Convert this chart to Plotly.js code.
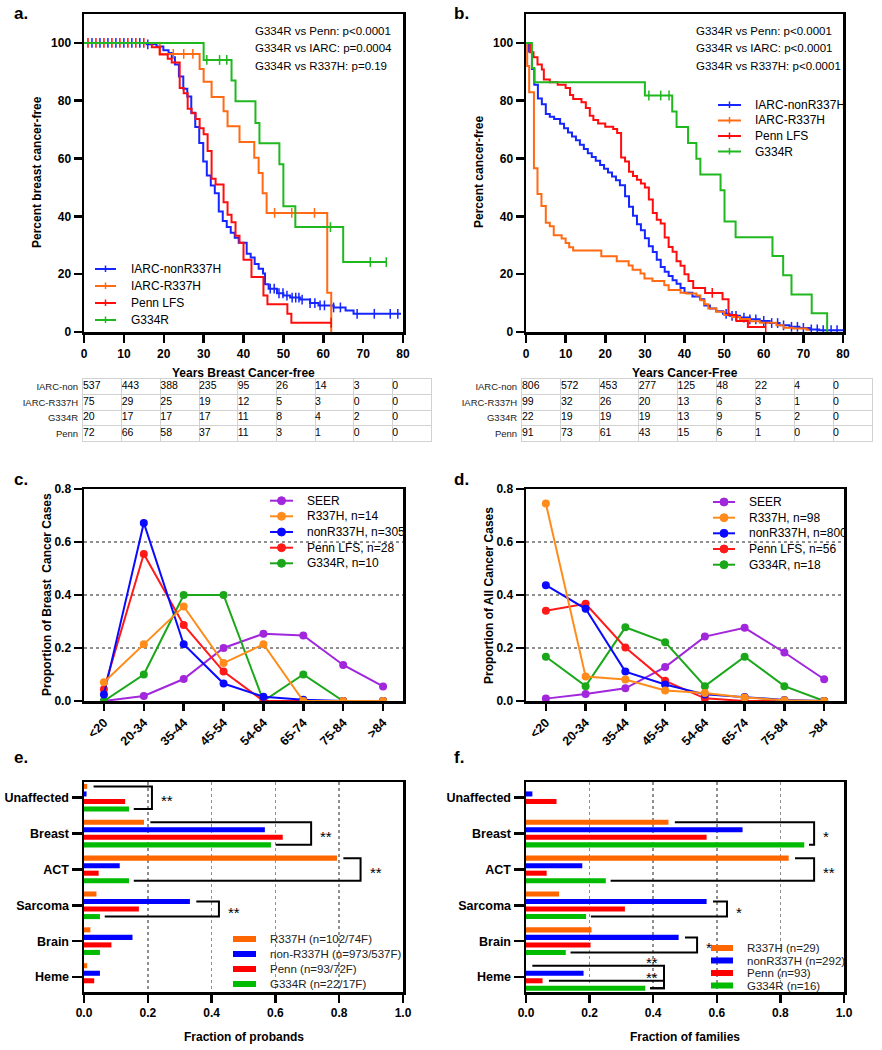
<!DOCTYPE html>
<html>
<head>
<meta charset="utf-8">
<script src="https://cdn.plot.ly/plotly-3.0.1.min.js"></script>
<style>html,body{margin:0;padding:0;background:#fff}#fig{width:882px;height:1050px}</style>
</head>
<body>
<div id="fig"></div>
<script>
// ---------- data ----------
// a. Years breast cancer-free (Kaplan-Meier, percent)
const aNonT  = [0,15.7,18.2,19.9,21.2,22.0,22.8,23.8,24.9,25.9,26.9,27.9,28.9,29.9,30.8,31.8,32.8,33.8,34.8,35.8,36.8,37.8,38.8,40.8,41.8,42.8,43.8,44.9,45.4,46.3,48.4,50.0,51.7,54.2,56.7,58.8,62.6,65.6,67.6,79.5];
const aNonS  = [100,99.5,98.8,97.5,96.5,95,92.5,88.4,84.1,81.5,75.8,70.9,65.4,59,54.1,50.7,48,41.7,38.4,36.3,34.3,32.6,30.9,27.1,25.8,23.5,21.9,20.2,16.5,15,13.4,12.6,11.9,11.2,10,9.2,8.5,7.4,6.3,6.3];
const aNonC  = [2,4,6,8,10,12,14,16,46.7,47.7,48.9,49.9,50.9,52.2,53.1,53.9,54.7,56.7,57.9,59.2,60.3,62.6,64.3,68.5,72.8,76.8,78.7];
const aR337T = [0,19,29,30,32,35,36,39,42.7,43.8,44.8,45.8,61,62];
const aR337S = [100,96.2,91,86.6,81.3,76.4,71.2,65.7,60.3,55,48,41.2,13.6,0];
const aR337C = [22.4,25,27.3,47.8,52.1,57.8];
const aPennT = [0,17,19,21,22,24,25,26,27,28,29,30,31,32,33,35,36,37,38,39,40,42,45,46,51,52,62];
const aPennS = [100,98.5,96,94.5,93.2,84.4,82.6,77.2,75.7,73.7,70.5,68.4,62.6,53,51,44.9,40.6,38,33.3,30.9,25,19,12.6,9.6,6.3,3.2,3.2];
const aPennC = [1,3,5,7,9,11,13,15,62];
const aG334T = [0,30,37,38,43,44,49,50,53,65,76];
const aG334S = [100,94.1,87,79.8,72.3,65.3,58,43.5,36.3,24.2,24.2];
const aG334C = [30.8,34,35.8,61.8,71.8,75.8];

// b. Years cancer-free
const bNonT  = [0,0.5,1.5,2.1,3.0,4.0,5.0,6.0,7.1,8.6,9.6,10.6,11.6,12.6,13.6,14.6,15.6,16.6,17.6,18.7,19.7,20.7,21.7,22.7,23.7,25,26,27,28,29,30,31,32,33,34,35,36,37,38,39,40,42,43.9,45,46.4,48,49.7,51.4,54,56.5,59,61.5,64,66.5,69,71.6,74,80];
const bNonS  = [100,97,91,85.5,80.8,78.8,75.4,74.5,73.7,72,70.5,69,67.6,66.3,64.8,63.3,61.8,60.5,59.2,57.8,56.5,55.2,53.8,52.5,50.8,47,43.3,40.2,37.3,35.2,32.4,29.7,27.7,25,22.5,20.8,19.4,17.9,16.7,15.2,13.6,12.3,11.3,9.2,8.1,7.2,6.3,5.6,5,4.4,3.8,3.1,2.3,1.8,1.4,0.9,0.6,0.6];
const bNonC  = [50.5,52,53,55,56.5,58,60,62,63.5,65,67,68.5,70,72,73.5,75,77,78.5];
const bR337T = [0,0.3,0.8,2.0,2.9,3.9,5.0,6.0,7.0,9.0,10.0,10.9,11.9,19.0,22.9,25.9,26.9,28.9,29.9,31.9,34.9,36.0,39.0,40.5,43.0,44.0,45.0,46.0,48.0,50.0,52.0,54.0,56.5,59.0,63.2,65.0,67.4,70.8,71.5];
const bR337S = [100,92,82.9,56.6,47.7,43.6,37.8,36.6,33.5,32.3,30.8,29.3,28.2,26.2,24.5,23,21.5,20.2,18.5,17.6,16.2,14.5,13.6,13.3,12.6,11,9.6,8.1,7,5.9,5.2,4.5,3.7,3.2,2.3,1.5,1.2,0.8,0.8];
const bR337C = [];
const bPennT = [0,1.0,1.9,2.9,4.0,4.5,6.0,8.0,10.0,11.1,11.9,14.0,15.1,16.1,17.0,18.2,20.0,22.0,23.0,24.0,25.0,26.0,27.0,28.0,29.0,30.0,31.0,32.0,33.0,34.0,35.0,36.0,37.0,38.0,39.0,40.0,41.0,42.2,45.2,49.6,51.1,53.1,56.0,60.5];
const bPennS = [100,96.8,95,92.5,90.8,87.3,86.4,85.5,84.4,82,80.6,79.5,77.5,74.8,73.3,72.1,71,70.2,68.8,60.4,59,55.4,54,52.7,51.4,50,45.8,41.2,38.8,37.5,32.7,29.4,27.8,24.5,22.9,20,17.6,15.2,13.5,11.3,5.9,3.8,1.7,1.7];
const bPennC = [47,60.5];
const bG334T = [0,1.5,2.1,30,36.9,38,40.9,43,44,49.1,50.1,52.9,62.2,64.9,67,72.1,76];
const bG334S = [100,91.3,86.4,81.8,76.3,70.9,65.4,59.9,54.5,49,38.2,32.8,26.3,19.6,13,6.5,0];
const bG334C = [31,34,36.1];

const kmNames = ['IARC-nonR337H','IARC-R337H','Penn LFS','G334R'];
const kmXTicks = [0,10,20,30,40,50,60,70,80];
const kmYTicks = [0,20,40,60,80,100];
const pvalA = ['G334R vs Penn: p<0.0001','G334R vs IARC: p=0.0004','G334R vs R337H: p=0.19'];
const pvalB = ['G334R vs Penn: p<0.0001','G334R vs IARC: p<0.0001','G334R vs R337H: p<0.0001'];

// numbers at risk
const riskLabels = ['IARC-non','IARC-R337H','G334R','Penn'];
const riskA = [[537,443,388,235,95,26,14,3,0],[75,29,25,19,12,5,3,0,0],[20,17,17,17,11,8,4,2,0],[72,66,58,37,11,3,1,0,0]];
const riskB = [[806,572,453,277,125,48,22,4,0],[99,32,26,20,13,6,3,1,0],[22,19,19,19,13,9,5,2,0],[91,73,61,43,15,6,1,0,0]];

// c/d. age distribution
const ageGroups = ['<20','20-34','35-44','45-54','54-64','65-74','75-84','>84'];
const cSEER  = [0.0,0.019,0.083,0.200,0.254,0.247,0.136,0.055];
const cR337H = [0.071,0.214,0.357,0.143,0.214,0,0,0];
const cNon   = [0.025,0.672,0.214,0.066,0.016,0.005,0,0];
const cPenn  = [0.044,0.555,0.287,0.111,0,0,0,0];
const cG334R = [0,0.1,0.4,0.4,0,0.1,0,0];
const dSEER  = [0.009,0.026,0.048,0.128,0.243,0.276,0.183,0.082];
const dR337H = [0.745,0.092,0.081,0.040,0.030,0.013,0.003,0];
const dNon   = [0.437,0.348,0.111,0.062,0.025,0.015,0.004,0];
const dPenn  = [0.341,0.367,0.202,0.076,0.010,0,0,0];
const dG334R = [0.167,0.056,0.278,0.222,0.056,0.167,0.056,0];
const cNames = ['SEER','R337H, n=14','nonR337H, n=305','Penn LFS, n=28','G334R, n=10'];
const dNames = ['SEER','R337H, n=98','nonR337H, n=800','Penn LFS, n=56','G334R, n=18'];

// e/f. tumour types
const cancerTypes = ['Unaffected','Breast','ACT','Sarcoma','Brain','Heme'];
const eR337H = [0.010,0.188,0.793,0.039,0.020,0.010];
const eNon   = [0.008,0.567,0.112,0.332,0.152,0.050];
const ePenn  = [0.129,0.623,0.046,0.172,0.086,0.032];
const eG334R = [0.141,0.586,0.141,0.050,0.050,0];
const fR337H = [0,0.448,0.826,0.104,0.206,0];
const fNon   = [0.020,0.681,0.177,0.568,0.480,0.181];
const fPenn  = [0.096,0.568,0.065,0.311,0.203,0.052];
const fG334R = [0,0.875,0.251,0.189,0.125,0.375];
const eNames = ['R337H (n=102/74F)','non-R337H (n=973/537F)','Penn (n=93/72F)','G334R (n=22/17F)'];
const fNames = ['R337H (n=29)','nonR337H (n=292)','Penn (n=93)','G334R (n=16)'];
const fracTicks = [0,0.2,0.4,0.6,0.8,1.0];
// significance brackets: category, top bar, bottom bar, bracket x, stars
const eSig = [{cat:0,top:0,bot:3,x:0.213,lab:'**'},{cat:1,top:0,bot:3,x:0.712,lab:'**'},{cat:2,top:0,bot:3,x:0.867,lab:'**'},{cat:3,top:1,bot:3,x:0.423,lab:'**'}];
const fSig = [{cat:1,top:0,bot:3,x:0.906,lab:'*'},{cat:2,top:0,bot:3,x:0.906,lab:'**'},{cat:3,top:1,bot:3,x:0.632,lab:'*'},{cat:4,top:1,bot:3,x:0.538,lab:'*'},{cat:5,top:0,bot:3,x:0.434,lab:'**',above:true},{cat:5,top:2,bot:3,x:0.434,lab:'**',above:true}];

// ---------- helpers ----------
const W = 882, H = 1050;
const X = p => p / W, Y = p => 1 - p / H;
const FN = "Liberation Sans, Arial, sans-serif";
const kmCol = ['#1526ff','#ff6a13','#ff0d0d','#1fb81f'];
const ageCol = ['#a126dc','#ff8c1a','#0a0aff','#ff1a1a','#1aa81a'];
const barCol = ['#ff6600','#0000ff','#ff0000','#00bb00'];

const traces = [], shapes = [], annotations = [];

function ann(text, x, y, o){
  annotations.push(Object.assign({text, x:X(x), y:Y(y), xref:'paper', yref:'paper', showarrow:false,
    xanchor:'center', yanchor:'middle', font:{family:FN, size:12, color:'#000'}}, o || {}));
}
function stepAt(t, T, S){ let v = S[0]; for (let i = 0; i < T.length; i++) if (T[i] <= t) v = S[i]; return v; }

function km(ax, T, S, C, color){
  traces.push({type:'scatter', mode:'lines', x:T, y:S, xaxis:'x'+ax, yaxis:'y'+ax,
    line:{shape:'hv', color, width:2}, hoverinfo:'skip'});
  if (C.length) traces.push({type:'scatter', mode:'markers', x:C, y:C.map(t => stepAt(t, T, S)),
    xaxis:'x'+ax, yaxis:'y'+ax, hoverinfo:'skip',
    marker:{symbol:'line-ns-open', size:7, color, line:{color, width:1.5}}});
}
function ageLines(ax, series){
  series.forEach(([vals, color]) => traces.push({type:'scatter', mode:'lines+markers',
    x:ageGroups.map((_, i) => i), y:vals, xaxis:'x'+ax, yaxis:'y'+ax, hoverinfo:'skip',
    line:{color, width:2}, marker:{color, size:8}}));
}
function bars(ax, series){
  series.forEach((vals, k) => traces.push({type:'bar', orientation:'h', x:vals,
    y:cancerTypes.map((_, i) => i), xaxis:'x'+ax, yaxis:'y'+ax, hoverinfo:'skip',
    marker:{color:barCol[k], line:{width:0}}}));
}
function riskTable(ax, rows){
  rows.forEach((row, i) => traces.push({type:'scatter', mode:'text', x:row.map((_, j) => j),
    y:row.map(() => i + 0.5), text:row.map(String), textposition:'middle right', cliponaxis:false,
    textfont:{family:FN, size:10.5, color:'#000'}, xaxis:'x'+ax, yaxis:'y'+ax, hoverinfo:'skip'}));
}
const off = k => (k - 1.5) * 0.21;
function sig(ax, list, series){
  list.forEach(b => {
    const yT = b.cat + off(b.top), yB = b.cat + off(b.bot);
    const xT = series[b.top][b.cat] + 0.02, xB = series[b.bot][b.cat] + 0.015;
    shapes.push({type:'path', xref:'x'+ax, yref:'y'+ax, path:`M${xT},${yT}H${b.x}V${yB}H${xB}`,
      line:{color:'#000', width:2}});
    if (b.above) annotations.push({text:b.lab, xref:'x'+ax, yref:'y'+ax, x:b.x - 0.012, y:yT,
      xanchor:'right', yanchor:'middle', yshift:3, showarrow:false, font:{family:FN, size:15, color:'#000'}});
    else annotations.push({text:b.lab, xref:'x'+ax, yref:'y'+ax, x:b.x + 0.022, y:(yT + yB) / 2,
      xanchor:'left', yanchor:'middle', yshift:-3, showarrow:false, font:{family:FN, size:15, color:'#000'}});
  });
}
function legend(kind, names, colors, x1, x2, tx, ys){
  names.forEach((name, i) => {
    const y = ys[i], c = colors[i], xm = (x1 + x2) / 2;
    if (kind === 'rect') {
      shapes.push({type:'rect', xref:'paper', yref:'paper', x0:X(x1), x1:X(x2), y0:Y(y + 3), y1:Y(y - 3),
        fillcolor:c, line:{width:0}});
    } else {
      shapes.push({type:'line', xref:'paper', yref:'paper', x0:X(x1), x1:X(x2), y0:Y(y), y1:Y(y), line:{color:c, width:2}});
      if (kind === 'tick') shapes.push({type:'line', xref:'paper', yref:'paper', x0:X(xm), x1:X(xm),
        y0:Y(y + 3), y1:Y(y - 3.5), line:{color:c, width:1.5}});
      else shapes.push({type:'circle', xref:'paper', yref:'paper', x0:X(xm - 4), x1:X(xm + 4),
        y0:Y(y + 4), y1:Y(y - 4), fillcolor:c, line:{color:c, width:1}});
    }
    ann(name, tx, y, {xanchor:'left', font:{family:FN, size:kind === 'rect' ? 11.5 : 12, color: kind === 'rect' ? '#222' : '#000'}});
  });
}

// ---------- traces ----------
km('', aNonT, aNonS, aNonC, kmCol[0]);
km('', aR337T, aR337S, aR337C, kmCol[1]);
km('', aPennT, aPennS, aPennC, kmCol[2]);
km('', aG334T, aG334S, aG334C, kmCol[3]);
km('2', bNonT, bNonS, bNonC, kmCol[0]);
km('2', bR337T, bR337S, bR337C, kmCol[1]);
km('2', bPennT, bPennS, bPennC, kmCol[2]);
km('2', bG334T, bG334S, bG334C, kmCol[3]);
ageLines('3', [[cSEER, ageCol[0]], [cG334R, ageCol[4]], [cPenn, ageCol[3]], [cNon, ageCol[2]], [cR337H, ageCol[1]]]);
ageLines('4', [[dSEER, ageCol[0]], [dG334R, ageCol[4]], [dPenn, ageCol[3]], [dNon, ageCol[2]], [dR337H, ageCol[1]]]);
bars('5', [eR337H, eNon, ePenn, eG334R]);
bars('6', [fR337H, fNon, fPenn, fG334R]);
riskTable('7', riskA);
riskTable('8', riskB);

sig('5', eSig, [eR337H, eNon, ePenn, eG334R]);
sig('6', fSig, [fR337H, fNon, fPenn, fG334R]);

legend('tick', kmNames, kmCol, 95, 116, 129, [269, 286, 303, 320]);
legend('tick', kmNames, kmCol, 718, 741, 753, [105, 120.5, 136, 151.5]);
legend('dot', cNames, ageCol, 270, 293, 305, [500.7, 516.3, 532, 547.7, 563.3]);
legend('dot', dNames, ageCol, 713, 735, 747, [502, 517.7, 533.3, 549, 564.7]);
legend('rect', eNames, barCol, 233, 256, 268, [939, 954, 969, 984]);
legend('rect', fNames, barCol, 711, 733, 745, [948, 960.5, 973, 985.5]);

const pvFont = {family:FN, size:11.5, color:'#000'};
pvalA.forEach((t, i) => ann(t, 253, [31, 48, 66][i], {xanchor:'left', font:pvFont}));
pvalB.forEach((t, i) => ann(t, 694, [31, 48, 66][i], {xanchor:'left', font:pvFont}));

// panel letters and axis titles
const lab = {family:FN, size:17, weight:'bold', color:'#000'};
ann('a.', 12, 14, {xanchor:'left', font:lab});
ann('b.', 452, 14, {xanchor:'left', font:lab});
ann('c.', 12, 480, {xanchor:'left', font:lab});
ann('d.', 452, 480, {xanchor:'left', font:lab});
ann('e.', 12, 757, {xanchor:'left', font:lab});
ann('f.', 452, 757, {xanchor:'left', font:lab});
const tf = {family:FN, size:12, weight:'bold', color:'#000'};
ann('Percent breast cancer-free', 37, 172, {textangle:-90, font:tf});
ann('Percent cancer-free', 479, 172, {textangle:-90, font:tf});
ann('Years Breast Cancer-free', 243.5, 373, {font:tf});
ann('Years Cancer-Free', 684.5, 373, {font:tf});
ann('Proportion of Breast&nbsp; Cancer Cases', 47, 595, {textangle:-90, font:tf});
ann('Proportion of All Cancer Cases', 489, 595, {textangle:-90, font:tf});
ann('Fraction of probands', 243.5, 1037, {font:tf});
ann('Fraction of families', 685, 1037, {font:tf});

// ---------- layout ----------
const frame = {showline:true, linecolor:'#000', linewidth:2.5, mirror:true, ticks:'outside', tickcolor:'#000',
  tickwidth:2.5, ticklen:8, showgrid:false, zeroline:false, fixedrange:true};
const tickB = {family:FN, size:12, weight:'bold', color:'#000'};
const dotGrid = {showgrid:true, gridcolor:'#8f8f8f', griddash:'dot', gridwidth:1.5};
const L = [84, 403], R = [526, 844];

function kmAxes(xd, xa, ya){
  return [
    Object.assign({}, frame, {domain:[X(xd[0]), X(xd[1])], range:[0,80], tickvals:kmXTicks, tickfont:tickB, anchor:ya, ticklabelstandoff:1}),
    Object.assign({}, frame, {domain:[Y(332), Y(14)], range:[0,110], tickvals:kmYTicks, tickfont:tickB, anchor:xa})
  ];
}
function ageAxes(xd, xa, ya){
  return [
    Object.assign({}, frame, {domain:[X(xd[0]), X(xd[1])], range:[-0.5,7.5], tickvals:ageGroups.map((_, i) => i),
      ticktext:ageGroups, tickangle:-45, ticklen:7, tickfont:{family:FN, size:12.5, weight:'bold', color:'#000'}, anchor:ya}),
    Object.assign({}, frame, dotGrid, {domain:[Y(701), Y(489)], range:[0,0.8], tickvals:[0,0.2,0.4,0.6,0.8],
      tickformat:'.1f', tickfont:tickB, anchor:xa})
  ];
}
function barAxes(xd, xa, ya){
  return [
    Object.assign({}, frame, dotGrid, {domain:[X(xd[0]), X(xd[1])], range:[0,1], tickvals:fracTicks, tickformat:'.1f',
      tickfont:tickB, anchor:ya}),
    Object.assign({}, frame, {domain:[Y(992), Y(782)], range:[5.418,-0.438], tickvals:cancerTypes.map((_, i) => i),
      ticktext:cancerTypes, ticklen:10, tickfont:{family:FN, size:12.5, weight:'bold', color:'#000'}, anchor:xa})
  ];
}
function tableAxes(xd, xa, ya){
  const g = '#d2d2d2';
  return [
    {domain:[X(xd[0]), X(xd[1])], range:[0,9], tickvals:kmXTicks.map((_, j) => j).concat([9]), showgrid:true, gridcolor:g,
      gridwidth:1, showticklabels:false, ticks:'', showline:true, mirror:true, linecolor:g, linewidth:1,
      zeroline:false, anchor:ya, fixedrange:true},
    {domain:[Y(441), Y(379)], range:[4,0], tickvals:riskLabels.map((_, i) => i + 0.5), ticktext:riskLabels,
      ticks:'', showgrid:false, minor:{tickmode:'array', tickvals:[1,2,3], showgrid:true, gridcolor:g, gridwidth:1, ticks:''},
      showline:true, mirror:true, linecolor:g, linewidth:1, zeroline:false, ticklabelstandoff:2,
      tickfont:{family:FN, size:9.5, color:'#222'}, anchor:xa, fixedrange:true}
  ];
}

const layout = {
  width:W, height:H, margin:{l:0, r:0, t:0, b:0},
  paper_bgcolor:'#fff', plot_bgcolor:'#fff', showlegend:false,
  font:{family:FN, color:'#000'},
  barmode:'group', bargap:0.16, bargroupgap:0.33,
  shapes, annotations
};
[[kmAxes(L, 'x', 'y'), ''], [kmAxes([526, 843], 'x2', 'y2'), '2'], [ageAxes(L, 'x3', 'y3'), '3'],
 [ageAxes(R, 'x4', 'y4'), '4'], [barAxes(L, 'x5', 'y5'), '5'], [barAxes(R, 'x6', 'y6'), '6'],
 [tableAxes([83, 431], 'x7', 'y7'), '7'], [tableAxes([522, 872], 'x8', 'y8'), '8']
].forEach(([ax, n]) => { layout['xaxis' + n] = ax[0]; layout['yaxis' + n] = ax[1]; });

Plotly.newPlot('fig', traces, layout, {staticPlot:true, displayModeBar:false});
</script>
</body>
</html>
